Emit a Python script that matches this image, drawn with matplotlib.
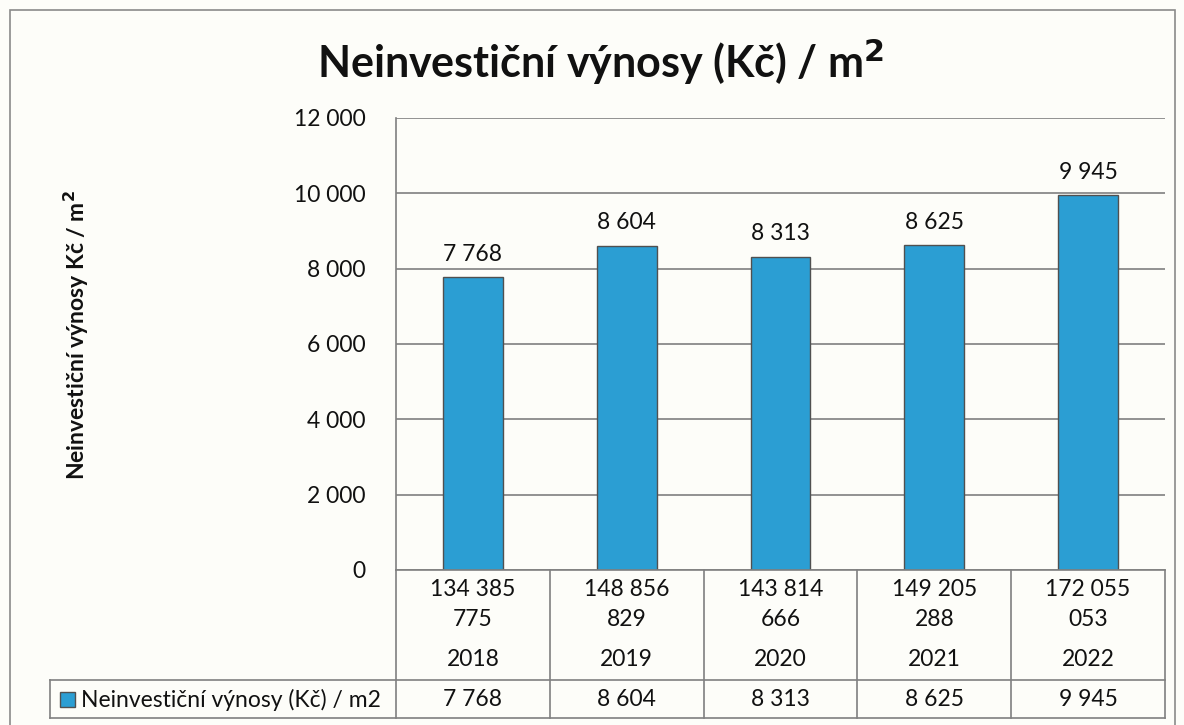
import matplotlib
matplotlib.use("Agg")
import matplotlib.pyplot as plt
from matplotlib.transforms import blended_transform_factory
from matplotlib.patches import Rectangle
from matplotlib.lines import Line2D

plt.rcParams['font.family'] = ['Lato', 'DejaVu Sans']

years = ["2018", "2019", "2020", "2021", "2022"]
totals = ["134 385\n775", "148 856\n829", "143 814\n666", "149 205\n288", "172 055\n053"]
values = [7768, 8604, 8313, 8625, 9945]
series_name = "Neinvestiční výnosy (Kč) / m2"
yticks = [0, 2000, 4000, 6000, 8000, 10000, 12000]

W, H = 1184, 725
fig = plt.figure(figsize=(W / 100, H / 100), dpi=100)
fig.patch.set_facecolor("#fdfdf9")

def fy(py):
    return 1 - py / H

def fx(px):
    return px / W

# outer frame
fig.patches.append(Rectangle((fx(10), fy(740)), fx(1175) - fx(10), fy(10) - fy(740),
                             transform=fig.transFigure, fill=False, edgecolor="#8a8a8a", lw=1.2))

x0, x1, ytop, ybot = 396, 1165, 118, 570
ax = fig.add_axes([fx(x0), fy(ybot), fx(x1) - fx(x0), fy(ytop) - fy(ybot)])
ax.set_facecolor("none")

fs = 16.5
fmt = lambda v: f"{v:,}".replace(",", " ")
xs = list(range(len(years)))
bar_color = "#2b9ed3"
ax.bar(xs, values, width=0.39, color=bar_color, edgecolor="#505050", linewidth=1.0, zorder=3)
for x, v in zip(xs, values):
    ax.text(x, v + 330, fmt(v), ha="center", va="bottom", fontsize=fs, color="#111111")

ax.set_xlim(-0.5, len(years) - 0.5)
ax.set_ylim(0, 12000)
ax.set_yticks(yticks)
ax.set_yticklabels([fmt(t) for t in yticks], fontsize=fs, color="#111111")
ax.tick_params(axis="y", length=0, pad=22)
ax.set_xticks([])
ax.grid(axis="y", color="#808080", lw=1.2, zorder=0)
for s in ["top", "right", "bottom"]:
    ax.spines[s].set_visible(False)
ax.spines["left"].set_color("#808080")
ax.spines["left"].set_linewidth(1.2)

# title & y label
fig.text(fx(601), fy(62), "Neinvestiční výnosy (Kč) / m$^\\mathbf{2}$", ha="center", va="center",
         fontsize=31, fontweight="bold", color="#111111")
fig.text(fx(76), fy(335), "Neinvestiční výnosy Kč / m$^\\mathbf{2}$", rotation=90, ha="center", va="center",
         fontsize=16.5, fontweight="bold", color="#111111")

# data table below
tr = blended_transform_factory(ax.transData, fig.transFigure)
lc = "#808080"
row1_bot, row2_bot = 680, 718
for b in [i - 0.5 for i in range(len(years) + 1)]:
    fig.add_artist(Line2D([b, b], [fy(ybot), fy(row2_bot)], transform=tr, color=lc, lw=1.2))
fig.add_artist(Line2D([fx(x0), fx(x1)], [fy(ybot), fy(ybot)], transform=fig.transFigure, color=lc, lw=1.2))
fig.add_artist(Line2D([fx(50), fx(x1)], [fy(row1_bot), fy(row1_bot)], transform=fig.transFigure, color=lc, lw=1.2))
fig.add_artist(Line2D([fx(50), fx(x1)], [fy(row2_bot), fy(row2_bot)], transform=fig.transFigure, color=lc, lw=1.2))
fig.add_artist(Line2D([fx(50), fx(50)], [fy(row1_bot), fy(row2_bot)], transform=fig.transFigure, color=lc, lw=1.2))

for x, t, yr, v in zip(xs, totals, years, values):
    l1, l2 = t.split("\n")
    fig.text(x, fy(590), l1, transform=tr, ha="center", va="center", fontsize=fs, color="#111111")
    fig.text(x, fy(620), l2, transform=tr, ha="center", va="center", fontsize=fs, color="#111111")
    fig.text(x, fy(660), yr, transform=tr, ha="center", va="center", fontsize=fs, color="#111111")
    fig.text(x, fy(700), fmt(v), transform=tr, ha="center", va="center", fontsize=fs, color="#111111")

# legend key in table
fig.patches.append(Rectangle((fx(60), fy(707)), fx(15), fy(692) - fy(707), transform=fig.transFigure,
                             facecolor=bar_color, edgecolor="#505050", lw=1.0))
fig.text(fx(81), fy(700), series_name, ha="left", va="center", fontsize=fs, color="#111111")

fig.savefig("out.png", dpi=100, facecolor=fig.get_facecolor())
